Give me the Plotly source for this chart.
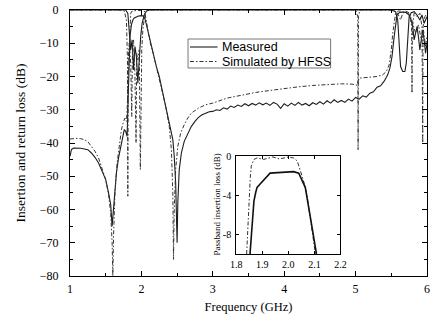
import plotly.graph_objects as go

# ---------------- main chart data (frequency GHz, dB) ----------------
f_meas_s21 = [1.00, 1.02, 1.05, 1.10, 1.15, 1.20, 1.25, 1.30, 1.35, 1.40, 1.45, 1.50, 1.54, 1.57, 1.59,
              1.60, 1.62, 1.65, 1.68, 1.71, 1.74, 1.76, 1.78, 1.80, 1.81, 1.82, 1.83, 1.84, 1.86, 1.88,
              1.90, 1.93, 1.96, 2.00, 2.03, 2.05, 2.07, 2.10, 2.14, 2.18, 2.21, 2.25, 2.28, 2.32, 2.35,
              2.39, 2.42, 2.44, 2.46, 2.48, 2.50, 2.51, 2.53, 2.56, 2.60, 2.65, 2.70, 2.75, 2.80, 2.85,
              2.90, 2.95, 3.00, 3.05, 3.10, 3.15, 3.20, 3.25, 3.30, 3.35, 3.40, 3.45, 3.50, 3.55, 3.60,
              3.65, 3.70, 3.75, 3.80, 3.85, 3.90, 3.95, 4.00, 4.05, 4.10, 4.15, 4.20, 4.25, 4.30, 4.35,
              4.40, 4.45, 4.50, 4.55, 4.60, 4.65, 4.70, 4.75, 4.80, 4.85, 4.90, 4.95, 5.00, 5.05, 5.10,
              5.15, 5.20, 5.25, 5.30, 5.35, 5.40, 5.45, 5.48, 5.51, 5.54, 5.56, 5.58, 5.61, 5.65, 5.70,
              5.74, 5.77, 5.80, 5.82, 5.84, 5.86, 5.88, 5.90, 5.92, 5.94, 5.96, 5.98, 6.00]
meas_s21 = [-44.0, -42.0, -41.5, -41.5, -41.6, -41.8, -42.0, -43.0, -44.3, -46.0, -48.3, -51.0, -55.0, -58.5, -65.0,
            -62.0, -55.0, -49.0, -44.5, -41.0, -37.5, -36.0, -36.5, -38.0, -30.0, -22.0, -14.0, -8.0, -4.5, -3.0,
            -2.4, -2.0, -1.8, -1.7, -1.8, -2.6, -4.5, -7.0, -10.5, -14.0, -17.0, -20.0, -23.0, -26.5, -29.5,
            -33.5, -36.5, -39.0, -44.0, -52.0, -70.0, -58.0, -48.0, -43.0, -39.5, -37.0, -35.0, -33.5, -32.3, -31.5,
            -31.0, -30.6, -30.5, -30.0, -30.2, -29.4, -29.8, -28.9, -29.3, -28.6, -29.0, -28.2, -28.8, -28.1, -28.6,
            -27.9, -28.5, -28.0, -28.7, -27.8, -28.3, -29.6, -28.2, -28.9, -28.0, -28.7, -27.8, -28.6, -28.1, -28.8,
            -27.9, -28.4, -27.6, -28.3, -27.3, -28.0, -27.0, -27.8, -27.2, -27.8, -26.8, -27.4, -26.3, -26.8, -25.8,
            -26.2, -25.0, -24.6, -23.2, -22.8, -21.4, -19.5, -17.5, -14.0, -8.0, -4.0, -1.5, -0.8, -0.6, -0.7,
            -1.2, -2.5, -5.0, -9.0, -7.0, -5.0, -8.0, -12.0, -9.0, -6.0, -9.0, -13.0, -10.0]

f_meas_s11 = [1.00, 1.78, 1.81, 1.83, 1.85, 1.87, 1.89, 1.91, 1.93, 1.95, 1.97, 1.99, 2.01, 2.04, 2.07,
              2.12, 5.50, 5.56, 5.59, 5.61, 5.63, 5.66, 5.69, 5.71, 5.73, 5.75, 5.78, 5.82, 5.86, 5.90,
              5.93, 5.96, 6.00]
meas_s11 = [0.0, 0.0, -1.0, -6.0, -12.0, -9.0, -18.0, -11.0, -14.0, -22.0, -13.0, -8.0, -4.0, -1.5, -0.3,
            0.0, 0.0, -0.5, -3.0, -10.0, -17.0, -18.5, -18.5, -16.0, -8.0, -2.0, -0.8, -0.5, -1.5, -3.0,
            -1.5, -4.0, -2.0]

f_sim_s21 = [1.00, 1.05, 1.10, 1.15, 1.20, 1.25, 1.30, 1.35, 1.40, 1.45, 1.50, 1.54, 1.57, 1.59, 1.60,
             1.61, 1.63, 1.66, 1.69, 1.72, 1.75, 1.77, 1.79, 1.80, 1.82, 1.83, 1.84, 1.85, 1.87, 1.90,
             1.95, 2.00, 2.04, 2.05, 2.06, 2.07, 2.09, 2.12, 2.17, 2.22, 2.28, 2.34, 2.39, 2.42, 2.44,
             2.45, 2.46, 2.48, 2.51, 2.55, 2.60, 2.65, 2.70, 2.80, 2.90, 3.00, 3.20, 3.40, 3.60, 3.80,
             4.00, 4.20, 4.40, 4.60, 4.80, 4.95, 5.02, 5.05, 5.10, 5.20, 5.30, 5.38, 5.43, 5.47, 5.50,
             5.52, 5.54, 5.56, 5.60, 5.65, 5.70, 5.75, 5.78, 5.80, 5.84, 5.88, 5.92, 5.95, 5.98, 6.00]
sim_s21 = [-38.8, -38.6, -38.6, -38.7, -39.0, -39.6, -41.0, -42.5, -44.5, -47.5, -51.0, -55.5, -61.0, -70.0, -80.0,
           -68.0, -55.0, -46.0, -40.0, -36.0, -33.5, -32.5, -33.5, -30.0, -18.0, -10.0, -4.0, -1.0, -0.3, -0.2,
           -0.1, -0.2, -0.3, -1.0, -2.2, -4.0, -6.5, -9.5, -13.5, -18.0, -23.0, -29.0, -35.0, -42.0, -55.0,
           -75.0, -60.0, -48.0, -41.0, -37.0, -34.5, -32.5, -31.0, -29.5, -28.5, -28.0, -26.5, -25.6, -24.8, -24.2,
           -23.6, -23.1, -22.7, -22.4, -22.2, -22.3, -22.6, -20.5, -20.4, -20.3, -20.0, -19.5, -18.5, -16.5, -12.0,
           -7.0, -3.0, -1.0, -0.3, -0.4, -0.8, -1.5, -2.5, -4.0, -7.0, -4.5, -9.0, -6.0, -11.0, -8.0]

f_sim_s11 = [1.00, 1.70, 1.76, 1.79, 1.805, 1.81, 1.815, 1.83, 1.85, 1.865, 1.875, 1.89, 1.91, 1.925, 1.93,
             1.935, 1.95, 1.97, 1.985, 1.995, 2.005, 2.02, 2.035, 2.05, 2.08, 2.15, 5.00, 5.03, 5.035, 5.04,
             5.06, 5.52, 5.56, 5.60, 5.63, 5.66, 5.70, 5.76, 5.785, 5.79, 5.795, 5.82, 5.86, 5.90, 5.93,
             5.94, 5.945, 5.97, 6.00]
sim_s11 = [0.0, 0.0, -0.3, -3.0, -15.0, -56.0, -15.0, -10.0, -16.0, -32.0, -12.0, -9.0, -20.0, -40.0, -25.0,
           -13.0, -15.0, -12.0, -48.0, -14.0, -12.0, -6.0, -2.5, -1.0, -0.2, 0.0, 0.0, -2.0, -42.0, -2.0,
           0.0, 0.0, -0.5, -1.5, -3.0, -1.0, -0.3, -1.0, -5.0, -25.0, -5.0, -1.0, -2.0, -1.0, -5.0,
           -40.0, -5.0, -2.0, -1.0]

# ---------------- inset data (passband insertion loss) ----------------
in_f_meas = [1.853, 1.860, 1.868, 1.875, 1.880, 1.890, 1.905, 1.918, 1.930, 1.960, 1.990, 2.020, 2.040,
             2.052, 2.065, 2.083, 2.095, 2.108]
in_meas = [-10.0, -7.0, -4.6, -3.7, -3.2, -2.9, -2.5, -2.1, -1.75, -1.7, -1.65, -1.6, -1.75,
           -2.5, -3.2, -6.0, -8.1, -10.0]
in_f_sim = [1.840, 1.845, 1.849, 1.854, 1.858, 1.863, 1.868, 1.880, 1.905, 1.940, 1.966, 2.000, 2.020,
            2.034, 2.046, 2.058, 2.071, 2.083, 2.095, 2.104]
in_sim = [-10.0, -6.8, -4.2, -2.2, -1.0, -0.6, -0.35, -0.2, -0.35, -0.1, -0.3, -0.1, -0.2,
          -0.5, -1.4, -2.5, -3.9, -6.0, -8.1, -10.0]

main_xticks = [1, 2, 3, 4, 5, 6]
main_yticks = [0, -10, -20, -30, -40, -50, -60, -70, -80]
inset_xticks = [1.8, 1.9, 2.0, 2.1, 2.2]
inset_xlabels = ["1.8", "1.9", "2.0", "2.1", "2.2"]
inset_yticks = [0, -4, -8]
inset_ylabels = ["0", "-4", "-8"]
legend_labels = ["Measured", "Simulated by HFSS"]

SERIF = "Liberation Serif, Times New Roman, serif"
SANS = "Liberation Sans, Arial, sans-serif"
SOLID = dict(color="#1c1c1c", width=1.1)
DASHDOT = dict(color="#333333", width=1.0, dash="4px,2px,1.5px,2px")

# layout geometry (pixels -> paper fractions of plot area)
W, H = 436, 326
ML, MR, MT, MB = 70, 3, 10, 50
PW, PH = W - ML - MR, H - MT - MB


def px(xp):
    return (xp - ML) / PW


def py(yp):
    return (H - MB - yp) / PH


fig = go.Figure()
fig.add_trace(go.Scatter(x=f_meas_s21, y=meas_s21, mode="lines", line=SOLID, showlegend=False))
fig.add_trace(go.Scatter(x=f_meas_s11, y=meas_s11, mode="lines", line=SOLID, showlegend=False))
fig.add_trace(go.Scatter(x=f_sim_s21, y=sim_s21, mode="lines", line=DASHDOT, showlegend=False))
fig.add_trace(go.Scatter(x=f_sim_s11, y=sim_s11, mode="lines", line=DASHDOT, showlegend=False))
fig.add_trace(go.Scatter(x=in_f_sim, y=in_sim, mode="lines", line=DASHDOT, xaxis="x2", yaxis="y2",
                         showlegend=False))
fig.add_trace(go.Scatter(x=in_f_meas, y=in_meas, mode="lines", line=dict(color="#111111", width=1.6),
                         xaxis="x2", yaxis="y2", showlegend=False))

axis_common = dict(showline=True, linecolor="black", linewidth=1, mirror="allticks", ticks="inside",
                   tickcolor="black", showgrid=False, zeroline=False)

# hand-drawn legend box (matches the compact legend of the original figure)
shapes = [
    dict(type="rect", xref="paper", yref="paper", x0=px(190), x1=px(335), y0=py(68), y1=py(39),
         line=dict(color="#777777", width=1), fillcolor="white", layer="above"),
    dict(type="line", xref="paper", yref="paper", x0=px(192), x1=px(220), y0=py(47), y1=py(47),
         line=dict(color=SOLID["color"], width=SOLID["width"]), layer="above"),
    dict(type="line", xref="paper", yref="paper", x0=px(192), x1=px(220), y0=py(61.5), y1=py(61.5),
         line=dict(color=DASHDOT["color"], width=DASHDOT["width"], dash=DASHDOT["dash"]), layer="above"),
]
annotations = [
    dict(text=legend_labels[0], xref="paper", yref="paper", x=px(222.5), y=py(47), xanchor="left",
         yanchor="middle", showarrow=False, font=dict(family=SANS, size=12.5, color="black")),
    dict(text=legend_labels[1], xref="paper", yref="paper", x=px(222.5), y=py(61.5), xanchor="left",
         yanchor="middle", showarrow=False, font=dict(family=SANS, size=12.5, color="black")),
    dict(text="Passband insertion loss (dB)", xref="paper", yref="paper", x=px(219), y=py(205),
         xanchor="center", yanchor="middle", textangle=-90, showarrow=False,
         font=dict(family=SERIF, size=9, color="black")),
]

fig.update_layout(
    width=W, height=H,
    margin=dict(l=ML, r=MR, t=MT, b=MB),
    paper_bgcolor="white", plot_bgcolor="white",
    font=dict(family=SERIF, color="black", size=12),
    xaxis=dict(**axis_common, range=[1, 6], tickvals=main_xticks, ticklen=5, tickwidth=1,
               minor=dict(dtick=0.5, ticks="inside", ticklen=3, tickcolor="black"),
               ticklabelstandoff=2,
               title=dict(text="Frequency (GHz)", font=dict(family=SERIF, size=12.5), standoff=6)),
    yaxis=dict(**axis_common, range=[-80, 0], tickvals=main_yticks, ticklen=5, tickwidth=1,
               minor=dict(dtick=5, ticks="inside", ticklen=3, tickcolor="black"),
               ticklabelstandoff=8,
               title=dict(text="Insertion and return loss (dB)", font=dict(family=SERIF, size=13.5), standoff=11)),
    xaxis2=dict(**axis_common, domain=[px(239), px(345)], anchor="y2", range=[1.8, 2.2],
                tickvals=inset_xticks, ticktext=inset_xlabels, ticklen=3,
                tickfont=dict(family=SERIF, size=10), ticklabelstandoff=1),
    yaxis2=dict(**axis_common, domain=[py(254), py(156)], anchor="x2", range=[-10, 0],
                tickvals=inset_yticks, ticktext=inset_ylabels, ticklen=3,
                tickfont=dict(family=SERIF, size=10), ticklabelstandoff=2),
    shapes=shapes,
    annotations=annotations,
    showlegend=False,
)

fig.write_html("out.html")
